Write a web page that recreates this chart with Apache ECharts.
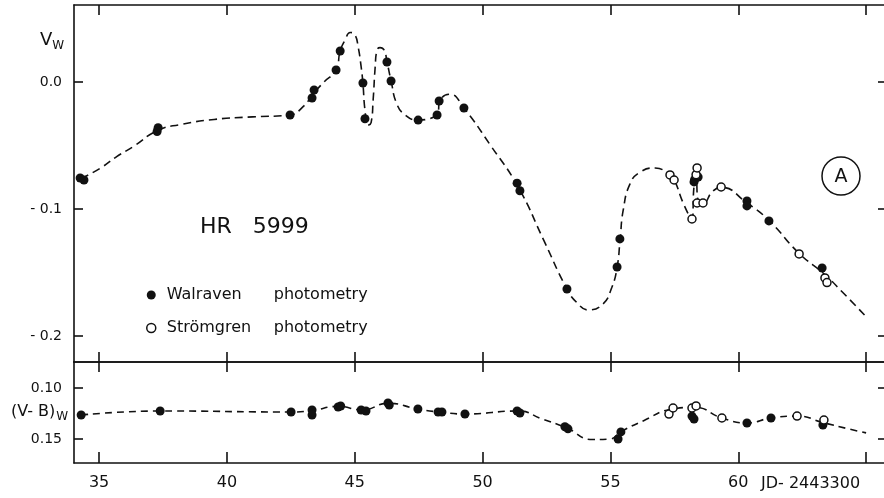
<!DOCTYPE html>
<html>
<head>
<meta charset="utf-8">
<title>HR 5999</title>
<script src="https://cdn.jsdelivr.net/npm/echarts@6/dist/echarts.min.js"></script>
<style>
  html, body { margin: 0; padding: 0; background: #fff; }
  #chart { width: 884px; height: 498px; }
</style>
</head>
<body>
<div id="chart"></div>
<script>
// tick values / labels
const xTicks = [35, 40, 45, 50, 55, 60, 65];
const xLabels = [35, 40, 45, 50, 55, 60];
const vTicks = [-0.2, -0.1, 0];
const vbTicks = [0.10, 0.15];

// V_W : Walraven photometry (filled)
const walJD = [34.26, 34.41, 37.27, 37.31, 42.47, 43.33, 43.41, 44.27, 44.43, 45.32, 45.40, 46.26, 46.42, 47.48, 48.22, 48.30, 49.27, 51.35, 51.46, 53.30, 55.26, 55.37, 58.27, 58.29, 58.43, 60.34, 60.34, 61.20, 63.28];
const walV = [-0.0756, -0.0772, -0.039, -0.036, -0.026, -0.0126, -0.0063, 0.0094, 0.0244, -0.0008, -0.029, 0.0157, 0.0008, -0.030, -0.026, -0.015, -0.0205, -0.0797, -0.0857, -0.163, -0.1457, -0.1236, -0.0787, -0.0770, -0.0748, -0.0937, -0.0976, -0.1094, -0.1465];

// V_W : Strömgren photometry (open)
const strJD = [57.33, 57.49, 58.19, 58.35, 58.39, 58.39, 58.62, 59.33, 62.38, 63.39, 63.47];
const strV = [-0.0732, -0.0772, -0.1079, -0.073, -0.0677, -0.0953, -0.0953, -0.0827, -0.1354, -0.1543, -0.158];

// V_W : dashed curve
const curveJD = [34.3, 35.04, 35.69, 36.33, 37.31, 38.2, 39.5, 41.0, 42.47, 43.0, 43.37, 43.8, 44.27, 44.43, 44.62, 44.82, 45.01, 45.13, 45.25, 45.32, 45.40, 45.52, 45.64, 45.72, 45.80, 45.87, 45.99, 46.15, 46.26, 46.42, 46.64, 46.97, 47.46, 47.9, 48.22, 48.35, 48.73, 49.27, 50.3, 51.4, 52.4, 53.3, 53.7, 54.13, 54.7, 55.05, 55.26, 55.38, 55.5, 55.77, 56.16, 56.75, 57.33, 57.50, 57.85, 58.18, 58.27, 58.35, 58.43, 58.62, 59.0, 59.33, 60.34, 61.20, 62.38, 63.35, 64.1, 64.96];
const curveV = [-0.076, -0.068, -0.0588, -0.051, -0.038, -0.0335, -0.0295, -0.0275, -0.026, -0.019, -0.0095, 0.000, 0.0094, 0.0244, 0.033, 0.039, 0.037, 0.028, 0.012, -0.001, -0.022, -0.034, -0.032, -0.014, 0.012, 0.025, 0.027, 0.025, 0.016, 0.001, -0.017, -0.026, -0.030, -0.029, -0.025, -0.014, -0.0097, -0.0205, -0.0496, -0.083, -0.125, -0.163, -0.174, -0.1795, -0.175, -0.162, -0.146, -0.124, -0.101, -0.080, -0.071, -0.0677, -0.0732, -0.0772, -0.0955, -0.108, -0.082, -0.075, -0.094, -0.0955, -0.086, -0.083, -0.0953, -0.109, -0.135, -0.151, -0.166, -0.184];

// (V-B)_W : Walraven (filled)
const walVbJD = [34.30, 37.39, 42.51, 43.33, 43.33, 44.35, 44.45, 45.25, 45.44, 46.30, 46.35, 47.47, 48.26, 48.41, 49.31, 51.35, 51.46, 53.22, 53.34, 55.30, 55.41, 58.19, 58.27, 60.34, 61.28, 63.31];
const walVb = [0.1265, 0.1225, 0.1235, 0.1216, 0.1265, 0.1186, 0.1176, 0.1216, 0.1225, 0.1147, 0.1167, 0.1206, 0.1235, 0.1235, 0.1255, 0.1225, 0.1245, 0.138, 0.140, 0.150, 0.143, 0.1275, 0.1304, 0.1343, 0.1294, 0.1363];

// (V-B)_W : Strömgren (open)
const strVbJD = [57.29, 57.45, 58.19, 58.35, 59.36, 62.30, 63.35];
const strVb = [0.1255, 0.1196, 0.1196, 0.1176, 0.1294, 0.1275, 0.1314];

// (V-B)_W : dashed curve
const vbCurveJD = [34.3, 37.39, 42.51, 43.33, 44.35, 45.3, 46.3, 47.47, 48.3, 49.31, 51.4, 52.3, 53.28, 54.3, 55.0, 55.4, 56.3, 57.35, 58.3, 59.36, 60.34, 61.28, 62.3, 63.33, 64.3, 65.0];
const vbCurveVal = [0.1265, 0.1225, 0.1235, 0.122, 0.118, 0.1215, 0.115, 0.1206, 0.1235, 0.1255, 0.1225, 0.130, 0.139, 0.1505, 0.150, 0.143, 0.132, 0.121, 0.119, 0.1294, 0.1343, 0.1294, 0.1275, 0.134, 0.140, 0.144];

const zip = (a, b) => a.map((v, i) => [v, b[i]]);
const ink = "#111";
const font = "DejaVu Sans";

let myEcharts = echarts.init(document.getElementById("chart"));

// common axis look
function xAxisOf(grid, pos, tickLen, labels) {
  return {
    type: "value",
    gridIndex: grid,
    position: pos,
    min: 34.02,
    max: 65.70,
    axisLine: { show: true, onZero: false, lineStyle: { color: ink, width: 1.6 } },
    axisTick: { show: true, inside: true, length: tickLen, customValues: xTicks, lineStyle: { color: ink, width: 1.6 } },
    axisLabel: {
      show: labels,
      customValues: xLabels,
      margin: 12,
      color: ink,
      fontFamily: font,
      fontSize: 16,
    },
    splitLine: { show: false },
  };
}

let option = {
  animation: false,
  backgroundColor: "#fff",
  grid: [
    { left: 74, right: 0, top: 5, height: 357 },
    { left: 74, right: 0, top: 362, height: 101 },
  ],
  xAxis: [
    xAxisOf(0, "bottom", 10, false),
    xAxisOf(0, "top", 10, false),
    xAxisOf(1, "top", 10, false),
    xAxisOf(1, "bottom", 11, true),
  ],
  yAxis: [
    {
      type: "value",
      gridIndex: 0,
      position: "left",
      min: -0.2205,
      max: 0.0606,
      axisLine: { show: true, onZero: false, lineStyle: { color: ink, width: 1.6 } },
      axisTick: { show: true, inside: true, length: 9, customValues: vTicks, lineStyle: { color: ink, width: 1.6 } },
      axisLabel: {
        customValues: vTicks,
        margin: 12,
        color: ink,
        fontFamily: font,
        fontSize: 14,
        padding: [0, 0, 6, 0],
        formatter: (v) => (Math.abs(v) < 1e-9 ? "0.0" : "- " + Math.abs(v).toFixed(1)),
      },
      splitLine: { show: false },
    },
    {
      type: "value",
      gridIndex: 0,
      position: "right",
      min: -0.2205,
      max: 0.0606,
      axisLine: { show: false },
      axisTick: { show: true, inside: true, length: 6, customValues: vTicks, lineStyle: { color: ink, width: 1.6 } },
      axisLabel: { show: false },
      splitLine: { show: false },
    },
    {
      type: "value",
      gridIndex: 1,
      position: "left",
      inverse: true,
      min: 0.0745,
      max: 0.1735,
      axisLine: { show: true, onZero: false, lineStyle: { color: ink, width: 1.6 } },
      axisTick: { show: true, inside: true, length: 9, customValues: vbTicks, lineStyle: { color: ink, width: 1.6 } },
      axisLabel: {
        customValues: vbTicks,
        margin: 12,
        color: ink,
        fontFamily: font,
        fontSize: 14,
        padding: [0, 0, 10, 0],
        formatter: (v) => v.toFixed(2),
      },
      splitLine: { show: false },
    },
    {
      type: "value",
      gridIndex: 1,
      position: "right",
      inverse: true,
      min: 0.0745,
      max: 0.1735,
      axisLine: { show: false },
      axisTick: { show: true, inside: true, length: 6, customValues: vbTicks, lineStyle: { color: ink, width: 1.6 } },
      axisLabel: { show: false },
      splitLine: { show: false },
    },
  ],
  legend: {
    orient: "vertical",
    left: 146,
    top: 286,
    padding: 0,
    itemWidth: 9,
    itemHeight: 9,
    itemGap: 15,
    selectedMode: false,
    data: [
      { name: "Walraven", icon: "circle", itemStyle: { color: ink, opacity: 1 } },
      { name: "Strömgren", icon: "circle", itemStyle: { color: "#fff", borderColor: ink, borderWidth: 1.5, opacity: 1 } },
    ],
    formatter: (name) => "{a|" + name + "}{b|photometry}",
    textStyle: {
      color: ink,
      fontFamily: font,
      fontSize: 16,
      lineHeight: 18,
      rich: {
        a: { width: 107, padding: [0, 0, 0, 6], fontFamily: font, fontSize: 16, color: ink },
        b: { fontFamily: font, fontSize: 16, color: ink },
      },
    },
  },
  graphic: [
    {
      type: "text",
      left: 40,
      top: 31,
      style: {
        text: "{v|V}{w|W}",
        rich: {
          v: { fontFamily: font, fontSize: 18, fill: ink },
          w: { fontFamily: font, fontSize: 12, fill: ink, padding: [12, 0, 0, 0] },
        },
      },
    },
    {
      type: "text",
      left: 11,
      top: 404,
      style: {
        text: "{v|(V- B)}{w|W}",
        rich: {
          v: { fontFamily: font, fontSize: 16, fill: ink },
          w: { fontFamily: font, fontSize: 12, fill: ink, padding: [10, 0, 0, 1] },
        },
      },
    },
    {
      type: "text",
      x: 200,
      y: 227,
      style: { text: "HR   5999", fontFamily: font, fontSize: 22, fill: ink, verticalAlign: "middle" },
    },
    {
      type: "text",
      x: 761,
      y: 484,
      style: { text: "JD- 2443300", fontFamily: font, fontSize: 16, fill: ink, verticalAlign: "middle" },
    },
    {
      type: "circle",
      shape: { cx: 841, cy: 176, r: 19 },
      style: { fill: "none", stroke: ink, lineWidth: 1.5 },
    },
    {
      type: "text",
      x: 841,
      y: 177,
      style: { text: "A", fontFamily: font, fontSize: 19, fill: ink, align: "center", verticalAlign: "middle" },
    },
  ],
  series: [
    {
      name: "curveV",
      type: "line",
      xAxisIndex: 0,
      yAxisIndex: 0,
      smooth: 0.5,
      showSymbol: false,
      silent: true,
      z: 2,
      lineStyle: { color: ink, width: 1.6, type: [8, 5] },
      data: zip(curveJD, curveV),
    },
    {
      name: "Walraven",
      type: "scatter",
      xAxisIndex: 0,
      yAxisIndex: 0,
      symbol: "circle",
      symbolSize: 9,
      z: 4,
      itemStyle: { color: ink, opacity: 1 },
      data: zip(walJD, walV),
    },
    {
      name: "Strömgren",
      type: "scatter",
      xAxisIndex: 0,
      yAxisIndex: 0,
      symbol: "circle",
      symbolSize: 8,
      z: 5,
      itemStyle: { color: "#fff", borderColor: ink, borderWidth: 1.5, opacity: 1 },
      data: zip(strJD, strV),
    },
    {
      name: "curveVB",
      type: "line",
      xAxisIndex: 3,
      yAxisIndex: 2,
      smooth: 0.5,
      showSymbol: false,
      silent: true,
      z: 2,
      lineStyle: { color: ink, width: 1.6, type: [7, 5] },
      data: zip(vbCurveJD, vbCurveVal),
    },
    {
      name: "Walraven",
      type: "scatter",
      xAxisIndex: 3,
      yAxisIndex: 2,
      symbol: "circle",
      symbolSize: 9,
      z: 4,
      itemStyle: { color: ink, opacity: 1 },
      data: zip(walVbJD, walVb),
    },
    {
      name: "Strömgren",
      type: "scatter",
      xAxisIndex: 3,
      yAxisIndex: 2,
      symbol: "circle",
      symbolSize: 8,
      z: 5,
      itemStyle: { color: "#fff", borderColor: ink, borderWidth: 1.5, opacity: 1 },
      data: zip(strVbJD, strVb),
    },
  ],
};

myEcharts.setOption(option);
window.addEventListener("resize", () => myEcharts.resize(), true);
</script>
</body>
</html>
